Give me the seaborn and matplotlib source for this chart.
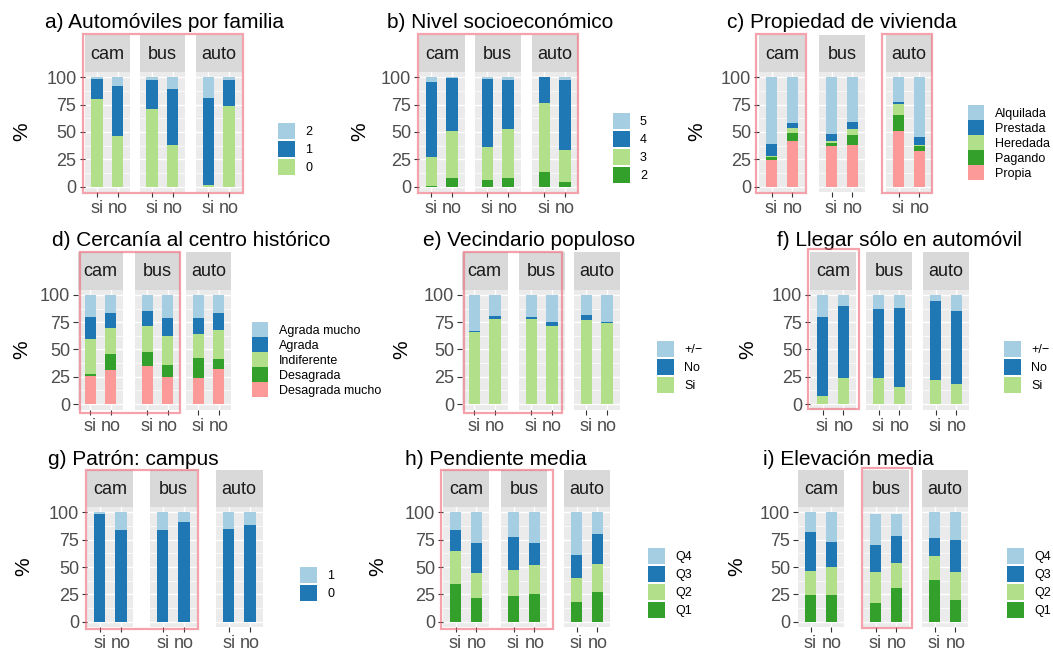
import numpy as np
import pandas as pd
import seaborn as sns
import matplotlib.pyplot as plt
from matplotlib.patches import Patch, Rectangle
from matplotlib.ticker import FixedLocator

W, H = 1053, 655

# Facets and responses
facets = ['cam', 'bus', 'auto']
resp = ['si', 'no']

# Percentages per level, order: cam-si, cam-no, bus-si, bus-no, auto-si, auto-no
autos_0 = [80, 46, 71, 38, 1.5, 74]
autos_1 = [18.5, 46, 26.5, 51, 79.5, 23.5]
autos_2 = [1.5, 8, 2.5, 11, 19, 2.5]

nse_2 = [0.6, 8, 6, 8, 13.4, 4.6]
nse_3 = [26.4, 43, 30.3, 44.7, 63.1, 28.9]
nse_4 = [68.7, 48.4, 62.2, 44.9, 23.5, 64.1]
nse_5 = [4.3, 0.6, 1.5, 2.4, 0, 2.4]

viv_propia = [24.4, 41.8, 37.2, 38.1, 51, 32.6]
viv_pagando = [2.4, 7.2, 2.8, 9.2, 14.5, 4.6]
viv_heredada = [1.6, 4.7, 1.8, 5.4, 10.1, 0.9]
viv_prestada = [10.6, 4.5, 6.4, 6.4, 1.8, 7.3]
viv_alquilada = [61, 41.8, 51.8, 40.9, 22.6, 54.6]

cen_desag_mucho = [25.7, 31.2, 34.9, 24.8, 23.9, 32.1]
cen_desag = [1.8, 14.7, 12.8, 11, 18.3, 9.2]
cen_indif = [32.1, 23.8, 23.9, 26.6, 22, 26.6]
cen_agrada = [20.2, 13.8, 13.7, 16.5, 14.7, 15.6]
cen_agrada_mucho = [20.2, 16.5, 14.7, 21.1, 21.1, 16.5]

vec_si = [66, 78, 78, 71.6, 77, 74.3]
vec_no = [1, 2.7, 1.8, 3.6, 4.7, 0.9]
vec_pm = [33, 19.3, 20.2, 24.8, 18.3, 24.8]

solo_si = [7.3, 23.9, 23.9, 15.6, 22, 18.3]
solo_no = [72.5, 66, 63.3, 72.5, 72.5, 67]
solo_pm = [20.2, 10.1, 12.8, 11.9, 5.5, 14.7]

campus_0 = [98.5, 83.8, 83.8, 91.2, 84.8, 88.4]
campus_1 = [1.5, 16.2, 16.2, 8.8, 15.2, 11.6]

pend_q1 = [34.5, 21.6, 23.5, 25.3, 18, 27.1]
pend_q2 = [30.1, 22.9, 23.8, 26.5, 22, 25.6]
pend_q3 = [19.2, 27.5, 30.1, 20.2, 21, 27.5]
pend_q4 = [16.2, 28, 22.6, 28, 39, 19.8]

elev_q1 = [24.4, 24.4, 17, 30.8, 38.1, 19.8]
elev_q2 = [21.9, 25.6, 28.4, 22.9, 21.9, 25.6]
elev_q3 = [35.7, 22.9, 24.7, 24.7, 16.5, 29.3]
elev_q4 = [18, 27.1, 28.9, 20.6, 23.5, 25.3]

LB, DB, LG, G, PK = '#A6CEE3', '#1F78B4', '#B2DF8A', '#33A02C', '#FB9A99'

# rows: strip top, panel top, panel bottom, title baseline (pixels)
ROWS = [(35, 72, 192, 28), (252, 289.5, 409.5, 246.5), (470, 507, 627, 465)]

panels = [
    dict(title='a) Automóviles por familia', row=0, tx=45, yl=22,
         lefts=[84.5, 139.5, 196], w=45.5,
         levels=['0', '1', '2'], values=[autos_0, autos_1, autos_2], colors=[LG, DB, LB],
         leg=(278, 123, 16, 2), boxes=[(83, 34, 243, 193)]),
    dict(title='b) Nivel socioeconómico', row=0, tx=387, yl=360,
         lefts=[419, 475, 532], w=45.5,
         levels=['2', '3', '4', '5'], values=[nse_2, nse_3, nse_4, nse_5], colors=[G, LG, DB, LB],
         leg=(613, 113, 16, 2), boxes=[(418, 34, 578, 193)]),
    dict(title='c) Propiedad de vivienda', row=0, tx=727, yl=697,
         lefts=[759, 819, 886], w=46,
         levels=['Propia', 'Pagando', 'Heredada', 'Prestada', 'Alquilada'],
         values=[viv_propia, viv_pagando, viv_heredada, viv_prestada, viv_alquilada],
         colors=[PK, G, LG, DB, LB],
         leg=(968, 105, 15, 0), boxes=[(756, 34, 806, 193), (882, 34, 932, 193)]),
    dict(title='d) Cercanía al centro histórico', row=1, tx=52, yl=22,
         lefts=[78, 135, 186], w=45,
         levels=['Desagrada mucho', 'Desagrada', 'Indiferente', 'Agrada', 'Agrada mucho'],
         values=[cen_desag_mucho, cen_desag, cen_indif, cen_agrada, cen_agrada_mucho],
         colors=[PK, G, LG, DB, LB],
         leg=(252, 322, 15, 0), boxes=[(80, 252, 180, 413)]),
    dict(title='e) Vecindario populoso', row=1, tx=423, yl=402,
         lefts=[462, 519, 574], w=45.5,
         levels=['Si', 'No', '+/−'], values=[vec_si, vec_no, vec_pm], colors=[LG, DB, LB],
         leg=(657, 341, 16, 2), boxes=[(464, 252, 562, 413)]),
    dict(title='f) Llegar sólo en automóvil', row=1, tx=777, yl=748,
         lefts=[810, 866, 923], w=46,
         levels=['Si', 'No', '+/−'], values=[solo_si, solo_no, solo_pm], colors=[LG, DB, LB],
         leg=(1004, 341, 16, 2), boxes=[(808, 249, 859, 409)]),
    dict(title='g) Patrón: campus', row=2, tx=48, yl=24,
         lefts=[87, 150, 216], w=46.5,
         levels=['0', '1'], values=[campus_0, campus_1], colors=[DB, LB],
         leg=(300, 567, 16, 2), boxes=[(86, 470, 198, 629)]),
    dict(title='h) Pendiente media', row=2, tx=405, yl=378,
         lefts=[443, 501, 564], w=46,
         levels=['Q1', 'Q2', 'Q3', 'Q4'], values=[pend_q1, pend_q2, pend_q3, pend_q4],
         colors=[G, LG, DB, LB],
         leg=(648, 548, 16, 2), boxes=[(441, 470, 553, 629)]),
    dict(title='i) Elevación media', row=2, tx=763, yl=737,
         lefts=[798, 863, 922], w=46,
         levels=['Q1', 'Q2', 'Q3', 'Q4'], values=[elev_q1, elev_q2, elev_q3, elev_q4],
         colors=[G, LG, DB, LB],
         leg=(1007, 548, 16, 2), boxes=[(862, 468, 912, 628)]),
]

plt.rcParams['font.family'] = ['Liberation Sans', 'DejaVu Sans']
fig = plt.figure(figsize=(W / 100, H / 100), dpi=100)

LEG_FS = 9
fs_px = LEG_FS * 100 / 72


def handle_h(px):
    # matplotlib trims a descent off the handle box; invert that
    return (px / fs_px - 0.245) / 0.65


for p in panels:
    st, pt, pb, tb = ROWS[p['row']]
    vals = np.array(p['values'])          # levels x 6
    cum = np.cumsum(vals, axis=0)
    for k, fac in enumerate(facets):
        x0 = p['lefts'][k]
        ax = fig.add_axes([x0 / W, 1 - pb / H, p['w'] / W, (pb - pt) / H])
        ax.set_facecolor('#EBEBEB')
        # overlay cumulative bars, top level first
        for lev in reversed(range(len(p['levels']))):
            df = pd.DataFrame({'resp': resp, 'pct': cum[lev, 2 * k:2 * k + 2]})
            sns.barplot(data=df, x='resp', y='pct', order=resp, color=p['colors'][lev],
                        saturation=1, width=0.55, linewidth=0, errorbar=None, ax=ax)
        ax.set_xlim(-0.6, 1.6)
        ax.set_ylim(-5, 105)
        ax.set_xlabel('')
        ax.set_ylabel('')
        for s in ax.spines.values():
            s.set_visible(False)
        ax.set_axisbelow(True)
        ax.yaxis.set_major_locator(FixedLocator([0, 25, 50, 75, 100]))
        ax.yaxis.set_minor_locator(FixedLocator([12.5, 37.5, 62.5, 87.5]))
        ax.set_xticks([0, 1])
        ax.set_xticklabels(resp)
        ax.grid(True, which='major', color='white', lw=1.0)
        ax.grid(True, which='minor', axis='y', color='white', lw=0.5)
        ax.tick_params(axis='both', which='major', length=3.3, width=0.8, color='#333333',
                       labelsize=13, labelcolor='#4D4D4D', pad=2.5)
        ax.tick_params(axis='y', which='minor', length=0)
        if k > 0:
            ax.tick_params(axis='y', which='major', length=0, labelleft=False)
        # strip
        sax = fig.add_axes([x0 / W, 1 - pt / H, p['w'] / W, (pt - st) / H])
        sax.set_facecolor('#D9D9D9')
        sax.set_xticks([])
        sax.set_yticks([])
        for s in sax.spines.values():
            s.set_visible(False)
        sax.text(0.5, 0.48, fac, ha='center', va='center', fontsize=13, color='#1A1A1A',
                 transform=sax.transAxes)

    fig.text(p['tx'] / W, 1 - tb / H, p['title'], fontsize=15, ha='left', va='baseline')
    fig.text(p['yl'] / W, 1 - (pt + pb) / 2 / H, '%', fontsize=15, rotation=90,
             ha='center', va='center')

    kx, ky, ks, gap = p['leg']
    handles = [Patch(facecolor=c, edgecolor='none') for c in p['colors']][::-1]
    labels = p['levels'][::-1]
    fig.legend(handles, labels, loc='upper left', bbox_to_anchor=(kx / W, 1 - ky / H),
               frameon=False, fontsize=LEG_FS, handlelength=(ks + 1) / fs_px,
               handleheight=handle_h(ks), labelspacing=gap / fs_px,
               handletextpad=(26 - ks) / fs_px, borderpad=0, borderaxespad=0)

    for (x0, y0, x1, y1) in p['boxes']:
        fig.add_artist(Rectangle((x0 / W, 1 - y1 / H), (x1 - x0) / W, (y1 - y0) / H,
                                 transform=fig.transFigure, fill=False,
                                 edgecolor='#EE6677', alpha=0.6, lw=1.6, zorder=10))

fig.savefig('out.png', dpi=100)
